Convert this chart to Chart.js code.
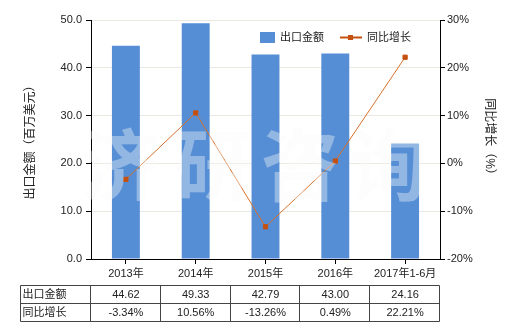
<!DOCTYPE html>
<html>
<head>
<meta charset="utf-8">
<script src="https://cdn.jsdelivr.net/npm/chart.js@4.4.1/dist/chart.umd.min.js"></script>
<style>
  html, body { margin: 0; padding: 0; background: #fff; }
  #wrap { width: 520px; height: 330px; }
</style>
</head>
<body>
<div id="wrap"><canvas id="chart" width="520" height="330"></canvas></div>
<script>
// data
const years = ['2013年', '2014年', '2015年', '2016年', '2017年1-6月'];
const exportValues = [44.62, 49.33, 42.79, 43.00, 24.16];   // 出口金额 (百万美元)
const growthRates = [-3.34, 10.56, -13.26, 0.49, 22.21];    // 同比增长 (%)
const seriesNames = ['出口金额', '同比增长'];
const watermarkChars = ['济', '研', '咨', '询'];

const FONT = '"Liberation Sans", "Noto Sans CJK SC", sans-serif';
const BAR_COLOR = '#558ed5';
const LINE_COLOR = '#d8712a';
const POINT_COLOR = '#c5500f';
const TEXT_COLOR = '#222';

// watermark + legend + data table drawn straight on the canvas
const extrasPlugin = {
    id: 'extras',
    afterDatasetsDraw(chart) {
        const ctx = chart.ctx;
        ctx.save();
        ctx.font = 'bold 78px "Noto Sans CJK SC", sans-serif';
        ctx.fillStyle = 'rgba(250, 250, 250, 0.38)';
        ctx.textAlign = 'center';
        ctx.textBaseline = 'middle';
        const xs = [120, 213, 300, 388];
        watermarkChars.forEach((ch, i) => ctx.fillText(ch, xs[i], 165));
        ctx.restore();
    },
    afterDraw(chart) {
        const ctx = chart.ctx;
        ctx.save();

        // legend
        ctx.font = '11px ' + FONT;
        ctx.textBaseline = 'middle';
        ctx.textAlign = 'left';
        ctx.fillStyle = BAR_COLOR;
        ctx.fillRect(260, 32, 15, 11);
        ctx.fillStyle = TEXT_COLOR;
        ctx.fillText(seriesNames[0], 280, 38);
        ctx.strokeStyle = POINT_COLOR;
        ctx.lineWidth = 2;
        ctx.beginPath();
        ctx.moveTo(340, 37.5);
        ctx.lineTo(362, 37.5);
        ctx.stroke();
        ctx.fillStyle = POINT_COLOR;
        ctx.fillRect(348, 35, 5, 5);
        ctx.fillStyle = TEXT_COLOR;
        ctx.fillText(seriesNames[1], 367, 38);

        // data table under the x axis
        const x = chart.scales.x;
        const half = (x.getPixelForValue(1) - x.getPixelForValue(0)) / 2;
        const left = 20.5;
        const top = 285.5;
        const rowH = 18;
        const right = Math.round(x.getPixelForValue(years.length - 1) + half) - 0.5;
        ctx.strokeStyle = '#444';
        ctx.lineWidth = 1;
        ctx.beginPath();
        for (let r = 0; r <= 2; r++) {
            ctx.moveTo(left, top + r * rowH);
            ctx.lineTo(right, top + r * rowH);
        }
        ctx.moveTo(left, top);
        ctx.lineTo(left, top + 2 * rowH);
        for (let i = 0; i < years.length; i++) {
            const bx = Math.round(x.getPixelForValue(i) + half) - 0.5;
            ctx.moveTo(bx, top);
            ctx.lineTo(bx, top + 2 * rowH);
        }
        const bx0 = Math.round(x.getPixelForValue(0) - half) - 0.5;
        ctx.moveTo(bx0, top);
        ctx.lineTo(bx0, top + 2 * rowH);
        ctx.stroke();

        ctx.fillStyle = TEXT_COLOR;
        ctx.font = '11px ' + FONT;
        ctx.textAlign = 'left';
        ctx.fillText(seriesNames[0], left + 2, top + rowH / 2);
        ctx.fillText(seriesNames[1], left + 2, top + rowH * 1.5);
        ctx.textAlign = 'center';
        years.forEach((_, i) => {
            const cx = x.getPixelForValue(i);
            ctx.fillText(exportValues[i].toFixed(2), cx, top + rowH / 2);
            ctx.fillText(growthRates[i].toFixed(2) + '%', cx, top + rowH * 1.5);
        });
        ctx.restore();
    }
};

new Chart(document.getElementById('chart'), {
    type: 'bar',
    data: {
        labels: years,
        datasets: [
            {
                type: 'line',
                label: seriesNames[1],
                data: growthRates,
                yAxisID: 'y1',
                borderColor: LINE_COLOR,
                borderWidth: 1,
                pointStyle: 'rect',
                pointRadius: 3,
                pointBackgroundColor: POINT_COLOR,
                pointBorderColor: POINT_COLOR,
                tension: 0,
                order: 1
            },
            {
                label: seriesNames[0],
                data: exportValues,
                yAxisID: 'y',
                backgroundColor: BAR_COLOR,
                categoryPercentage: 1,
                barPercentage: 0.4,
                order: 2
            }
        ]
    },
    options: {
        responsive: false,
        animation: false,
        layout: { padding: { left: 19, right: 19, top: 20, bottom: 45 } },
        plugins: {
            legend: { display: false },
            tooltip: { enabled: false }
        },
        scales: {
            x: {
                offset: true,
                grid: { display: true, drawOnChartArea: false, offset: false, tickLength: 5, tickColor: '#000' },
                border: { color: '#000' },
                ticks: { font: { size: 11, family: FONT }, color: TEXT_COLOR, padding: 3, maxRotation: 0 },
                afterFit(scale) { scale.height = 26; }
            },
            y: {
                position: 'left',
                min: 0,
                max: 50,
                ticks: {
                    stepSize: 10,
                    font: { size: 11, family: FONT },
                    color: TEXT_COLOR,
                    padding: 4,
                    callback: v => v.toFixed(1)
                },
                grid: { color: '#e9e9e1', tickColor: '#000', tickLength: 5 },
                border: { color: '#000' },
                title: {
                    display: true,
                    text: '出口金额（百万美元）',
                    font: { size: 12, family: FONT },
                    color: TEXT_COLOR,
                    padding: { top: 4, bottom: 0 }
                },
                afterFit(scale) { scale.width = 72; }
            },
            y1: {
                position: 'right',
                min: -20,
                max: 30,
                ticks: {
                    stepSize: 10,
                    font: { size: 11, family: FONT },
                    color: TEXT_COLOR,
                    padding: 2,
                    callback: v => v + '%'
                },
                grid: { drawOnChartArea: false, tickColor: '#000', tickLength: 5 },
                border: { color: '#000' },
                title: {
                    display: true,
                    text: '同比增长（%）',
                    font: { size: 12, family: FONT },
                    color: TEXT_COLOR,
                    padding: { top: 4, bottom: 0 }
                },
                afterFit(scale) { scale.width = 61; }
            }
        }
    },
    plugins: [extrasPlugin]
});
</script>
</body>
</html>
